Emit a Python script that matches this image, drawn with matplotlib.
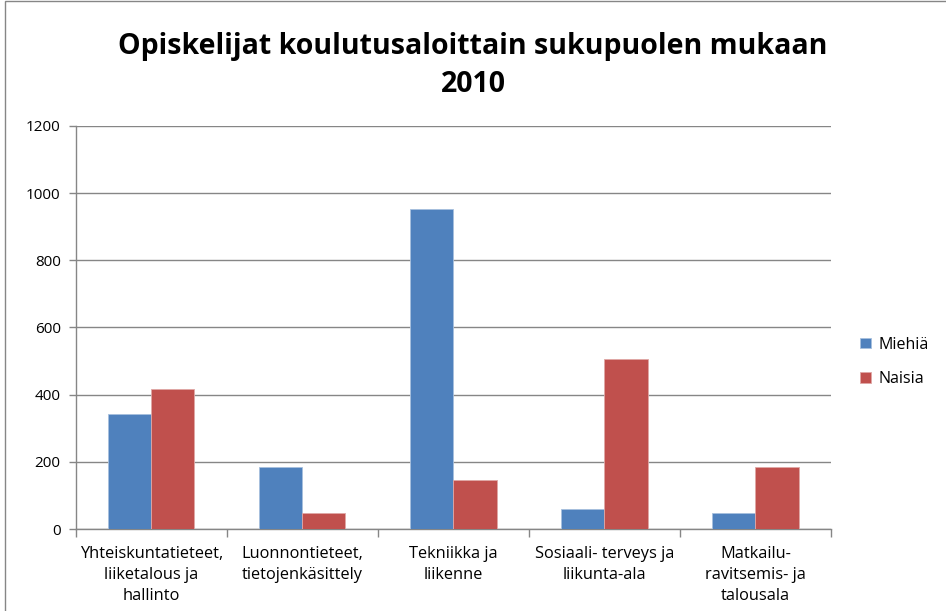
import matplotlib.pyplot as plt
import numpy as np
from matplotlib.patches import Rectangle

categories = ["Yhteiskuntatieteet,\nliiketalous ja\nhallinto",
              "Luonnontieteet,\ntietojenkäsittely",
              "Tekniikka ja\nliikenne",
              "Sosiaali- terveys ja\nliikunta-ala",
              "Matkailu-\nravitsemis- ja\ntalousala"]
miehia = [342, 184, 953, 59, 47]
naisia = [416, 48, 146, 505, 184]
yticks = [0, 200, 400, 600, 800, 1000, 1200]

plt.rcParams['font.family'] = ['Open Sans', 'DejaVu Sans']
grid_col = '#868686'

fig = plt.figure(figsize=(9.46, 6.11), dpi=100)
ax = fig.add_axes([0.0803, 0.1342, 0.7981, 0.6596])

x = np.arange(len(categories))
w = 0.285
ax.bar(x - w/2, miehia, w, color='#4f81bd', label='Miehiä', edgecolor='#a7c0de', linewidth=0.6, zorder=3)
ax.bar(x + w/2, naisia, w, color='#c0504d', label='Naisia', edgecolor='#dfa7a6', linewidth=0.6, zorder=3)

ax.set_xlim(-0.5, len(categories) - 0.5)
ax.set_ylim(0, 1200)
ax.set_yticks(yticks)
ax.set_yticklabels([str(t) for t in yticks], fontsize=11)
ax.yaxis.grid(True, color=grid_col, linewidth=1.0, zorder=0)

ax.set_xticks(x)
ax.set_xticklabels(categories, fontsize=11.8, linespacing=1.45)
ax.tick_params(axis='x', length=0, pad=12)
ax.set_xticks(np.arange(-0.5, len(categories)), minor=True)
ax.tick_params(axis='x', which='minor', length=6, color=grid_col, width=1)
ax.tick_params(axis='y', length=5, color=grid_col, width=1, pad=6)

for s in ['top', 'right']:
    ax.spines[s].set_visible(False)
for s in ['left', 'bottom']:
    ax.spines[s].set_color(grid_col)
    ax.spines[s].set_linewidth(1.0)

ax.legend(loc='center left', bbox_to_anchor=(1.02, 0.415), frameon=False, fontsize=11.5,
          handlelength=0.65, handleheight=0.65, handletextpad=0.45, labelspacing=1.15)

fig.text(0.5, 0.893, "Opiskelijat koulutusaloittain sukupuolen mukaan\n2010",
         ha='center', va='center', fontsize=20.5, fontweight='bold', linespacing=1.4)

fig.patches.append(Rectangle((0.005, -0.01), 1.0, 1.008, transform=fig.transFigure,
                             fill=False, edgecolor=grid_col, linewidth=1.0))

fig.savefig('out.png', dpi=100)
